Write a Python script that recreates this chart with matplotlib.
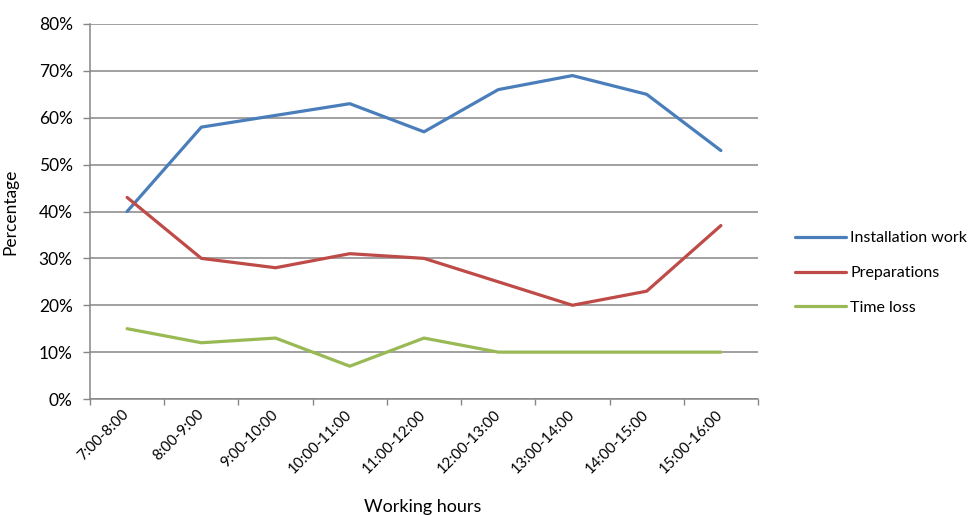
import matplotlib
matplotlib.use("Agg")
import matplotlib.pyplot as plt
from matplotlib.ticker import FixedLocator, PercentFormatter

categories = ["7:00-8:00", "8:00-9:00", "9:00-10:00", "10:00-11:00", "11:00-12:00",
              "12:00-13:00", "13:00-14:00", "14:00-15:00", "15:00-16:00"]
installation = [40, 58, 60.5, 63, 57, 66, 69, 65, 53]
preparations = [43, 30, 28, 31, 30, 25, 20, 23, 37]
time_loss = [15, 12, 13, 7, 13, 10, 10, 10, 10]
series_names = ["Installation work", "Preparations", "Time loss"]
colors = ["#4A7EBB", "#BE4B48", "#98B954"]

plt.rcParams['font.family'] = ['Lato', 'DejaVu Sans']

fig = plt.figure(figsize=(9.7, 5.15), dpi=100)
ax = fig.add_axes([90/970, 1-399/515, (758-90)/970, (399-24)/515])

x = list(range(len(categories)))
for vals, name, c in zip([installation, preparations, time_loss], series_names, colors):
    ax.plot(x, vals, color=c, lw=2.3, label=name, solid_joinstyle='round', solid_capstyle='round', zorder=3)

ax.set_xlim(-0.5, len(categories) - 0.5)
ax.set_ylim(0, 80)
ax.set_yticks(range(0, 81, 10))
ax.yaxis.set_major_formatter(PercentFormatter(decimals=0))
ax.grid(axis='y', color='#868686', lw=1.1, zorder=0)
ax.set_axisbelow(True)

ax.set_xticks(x)
ax.set_xticklabels(categories, rotation=45, ha='right', va='center', rotation_mode='anchor', fontsize=10.8)
ax.xaxis.set_minor_locator(FixedLocator([i - 0.5 for i in range(len(categories) + 1)]))
ax.tick_params(axis='x', which='major', length=0, pad=9.5)
ax.tick_params(axis='x', which='minor', length=4, color='#868686', width=1)
ax.tick_params(axis='y', length=5, color='#868686', width=1, labelsize=12.5, pad=7.5)

for s in ['top', 'right']:
    ax.spines[s].set_visible(False)
for s in ['left', 'bottom']:
    ax.spines[s].set_color('#868686')
    ax.spines[s].set_linewidth(1.1)

ax.set_ylabel("Percentage", fontsize=12.5)
ax.yaxis.set_label_coords((18.5 - 90) / 668, 0.5)
fig.text(423/970, 1-507/515, "Working hours", ha='center', va='center', fontsize=13)

leg = ax.legend(loc='center left', bbox_to_anchor=(781/970, 1-273/515), bbox_transform=fig.transFigure,
                frameon=False, fontsize=11.5, handlelength=3.2, handletextpad=0.25, labelspacing=1.3)

fig.savefig("out.png", dpi=100)
